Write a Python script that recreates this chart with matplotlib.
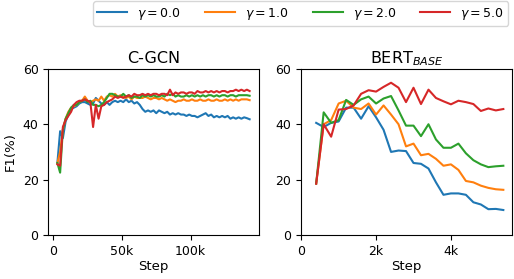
import matplotlib
matplotlib.use("Agg")
import matplotlib.pyplot as plt
from matplotlib.ticker import FuncFormatter

gammas = ["0.0", "1.0", "2.0", "5.0"]
colors = ["#1f77b4", "#ff7f0e", "#2ca02c", "#d62728"]

# C-GCN: steps 3k..143k every 2k
cgcn_steps = list(range(3000, 144000, 2000))
cgcn_g0 = [26, 37.5, 35, 41, 43.5, 45.5, 46, 46.5, 47.5, 48, 48, 47.5, 47, 47.5, 49.5, 48.5, 47.5, 47,
           48, 47, 48, 48.5, 48, 48.5, 48, 49, 48, 48.5, 47.5, 48, 47, 45.5, 44.5, 45, 44.5, 45,
           44, 45, 44.5, 44, 44.5, 43.5, 44, 43.5, 44, 43.5, 43.5, 43, 43.5, 43, 43, 42.5, 43, 43.5,
           44, 43, 43.5, 42.5, 43, 42.5, 43, 42.5, 43, 42, 42.5, 42, 42.5, 42, 42.5, 42.2, 41.8]
cgcn_g1 = [26, 30, 38, 42, 44.5, 46, 46.5, 47, 48, 48.5, 50, 48.5, 48, 48.5, 49, 48.5, 50, 48.5,
           50, 50.5, 50, 51, 50, 50.5, 50, 49.5, 50, 49, 50, 49.5, 49.5, 49.5, 50, 49.5, 49, 49.5,
           49.5, 49, 49.5, 49, 48.5, 49, 48.5, 48, 48.5, 48.5, 49, 48.5, 48.5, 49, 48.5, 48.5, 49, 48.5,
           48.5, 49, 48.5, 48.5, 49, 48.5, 48.5, 49, 48.5, 49, 48.5, 49, 48.5, 49, 49, 49, 48.7]
cgcn_g2 = [26, 22.5, 38, 42, 44, 46, 47, 47, 48, 48.5, 49, 48, 48.5, 47, 47, 46.5, 47, 48,
           49.5, 51, 51, 50.5, 50, 50, 51, 50, 50.5, 49.5, 50, 50, 49.5, 50.5, 50, 50.5, 50, 50.5,
           50, 50, 50.5, 50, 51, 50.5, 51, 50, 50.5, 50, 50, 50.5, 50, 50.5, 50, 50.5, 50, 50.5,
           50, 50.5, 50.5, 50, 50.5, 50, 50.5, 50.5, 50, 50.5, 50.5, 50, 50.5, 50.5, 50.5, 50.5, 50.3]
cgcn_g5 = [25.5, 25, 39, 41.5, 43, 44.5, 47, 48, 48.5, 48.5, 49, 48.5, 48, 39, 47, 42, 46.5, 47,
           48, 48.5, 49, 50, 49.5, 50, 49.5, 50, 50.5, 50, 51, 50.5, 50.5, 51, 50.5, 51, 50.5, 51,
           51, 50.5, 51, 51, 50.5, 52.5, 50.5, 51.5, 51, 51.5, 51.5, 51, 51.5, 51.5, 51, 52, 51.5, 51.5,
           52, 51.5, 52, 51.5, 52, 51.5, 52, 52, 51.5, 52, 52, 52.5, 52, 52.5, 52, 52.5, 52]

# BERT_BASE: steps 0.4k..5.4k every 0.2k
bert_steps = list(range(400, 5600, 200))
bert_g0 = [40.5, 39, 40.5, 41, 46, 46, 42, 46.5, 42.5, 38, 30, 30.5, 30.3, 26, 25.7, 24, 19,
           14.5, 15, 15, 14.5, 11.8, 11, 9.3, 9.4, 9]
bert_g1 = [18.6, 40, 41.5, 47.5, 48.5, 46, 45.5, 47.5, 43.5, 46.8, 43.5, 40, 32, 33, 28.8, 29.3,
           27.5, 25, 25.5, 23.5, 19.5, 19, 17.8, 17, 16.5, 16.3]
bert_g2 = [18.6, 44.3, 40.5, 41.5, 48.8, 47, 49, 50, 47.5, 49.3, 50.2, 45, 39.5, 39.5, 35.7, 40,
           34.5, 31.5, 31.5, 33, 29.5, 27, 25.5, 24.5, 24.8, 25]
bert_g5 = [18.5, 40, 35.5, 45.3, 45.5, 46.8, 51, 52.3, 51.8, 53.5, 55, 53.2, 48, 53.2, 47.3, 52.5,
           49.5, 48.3, 47.2, 48.5, 48, 47.3, 44.8, 45.7, 45, 45.5]

fig = plt.figure(figsize=(5.14, 2.79), dpi=100)
ax1 = fig.add_axes([0.094, 0.158, 0.409, 0.595])
ax2 = fig.add_axes([0.586, 0.158, 0.410, 0.595])

kfmt = FuncFormatter(lambda v, p: "0" if v == 0 else f"{int(v/1000)}k")

lines = []
for ys, c, g in zip([cgcn_g0, cgcn_g1, cgcn_g2, cgcn_g5], colors, gammas):
    l, = ax1.plot(cgcn_steps, ys, color=c, lw=1.5, label=r"$\gamma = $" + g)
    lines.append(l)
for ys, c in zip([bert_g0, bert_g1, bert_g2, bert_g5], colors):
    ax2.plot(bert_steps, ys, color=c, lw=1.5)

ax1.set_ylim(0, 60)
ax2.set_ylim(0, 60)
ax1.set_xlim(-3600, 149500)
ax2.set_xlim(0, 5630)
ax1.set_xticks([0, 50000, 100000])
ax2.set_xticks([0, 2000, 4000])
for ax in (ax1, ax2):
    ax.set_yticks([0, 20, 40, 60])
    ax.xaxis.set_major_formatter(kfmt)
    ax.tick_params(labelsize=9)
    ax.set_xlabel("Step", fontsize=9.5, labelpad=2)
ax1.set_ylabel("F1(%)", fontsize=9.5)
ax1.set_title("C-GCN", fontsize=11.5, pad=4)
ax2.set_title(r"BERT$_{BASE}$", fontsize=11.5, pad=4)

fig.legend(handles=lines, loc="upper center", bbox_to_anchor=(0.585, 1.018), ncol=4,
           fontsize=9, frameon=True, handlelength=2.4, columnspacing=1.9,
           borderpad=0.35, handletextpad=0.8)

fig.savefig("out.png", dpi=100)
